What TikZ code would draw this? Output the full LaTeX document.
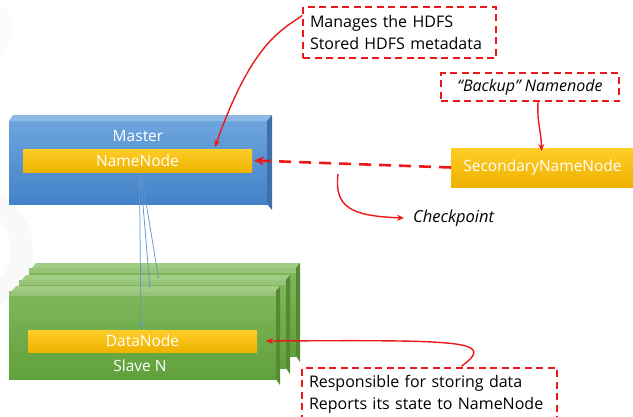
\documentclass[tikz,border=0pt]{standalone}
\usepackage{fontspec}
\setmainfont{Open Sans}
\usetikzlibrary{arrows.meta}

\definecolor{bluetop}{RGB}{108,165,222}
\definecolor{bluebot}{RGB}{68,130,200}
\definecolor{blueside}{RGB}{62,112,170}
\definecolor{bluelid}{RGB}{140,185,230}
\definecolor{greentop}{RGB}{128,184,92}
\definecolor{greenbot}{RGB}{96,160,58}
\definecolor{greenside}{RGB}{84,138,50}
\definecolor{greenlid}{RGB}{160,205,130}
\definecolor{goldtop}{RGB}{255,205,40}
\definecolor{goldbot}{RGB}{238,178,0}
\definecolor{callred}{RGB}{235,25,25}
\definecolor{linkblue}{RGB}{95,150,205}

\tikzset{
  frontface/.style={draw=none, inner sep=0pt, outer sep=0pt},
  masterface/.style={frontface, top color=bluetop, bottom color=bluebot},
  slaveface/.style={frontface, top color=greentop, bottom color=greenbot},
  goldbar/.style={draw=none, inner sep=0pt, outer sep=0pt, top color=goldtop, bottom color=goldbot,
    text=white, font=\fontsize{15.5}{18}\selectfont},
  boxlabel/.style={text=white, font=\fontsize{15.5}{18}\selectfont, inner sep=0pt},
  callout/.style={draw=callred, line width=1.6pt, dash pattern=on 7pt off 4.5pt, inner sep=0pt,
    fill=white, align=left, font=\fontsize{16}{21.5}\selectfont},
  redarrow/.style={draw=callred, line width=1.4pt, -{Stealth[length=7pt,width=6pt]}},
  dashlink/.style={draw=callred, line width=2.6pt, dash pattern=on 12pt off 8pt,
    -{Stealth[length=10pt,width=9pt]}},
  heartbeat/.style={draw=linkblue, line width=0.75pt},
}

\begin{document}
\begin{tikzpicture}[x=1pt, y=-1pt]
\useasboundingbox (0,0) rectangle (633,416);

% faint watermark rings behind everything
\draw[gray!5, line width=22pt] (-30,250) circle[radius=52];
\draw[gray!3, line width=14pt] (-25,30) circle[radius=30];

% ---- slave machines (three stacked boxes, back to front) ----
\foreach \dx/\dy/\nm in {20/-23/slaveC, 10/-11/slaveB, 0/0/slaveA}{
  \node[slaveface, minimum width=267pt, minimum height=88pt] (\nm) at (142.5+\dx,335+\dy) {};
  \fill[greenlid] ([xshift=3pt]\nm.north west) -- ++(4,-5) -- ([xshift=4pt,yshift=5pt]\nm.north east)
    -- (\nm.north east) -- cycle;
  \fill[greenside] (\nm.north east) -- ++(4,-5) -- ([xshift=4pt,yshift=-6pt]\nm.south east)
    -- (\nm.south east) -- cycle;
  \fill[white, opacity=0.18] (\nm.north west) rectangle ([yshift=-5pt]\nm.north east);
}

% ---- master machine ----
\node[masterface, minimum width=258pt, minimum height=83pt] (master) at (138,162.5) {};
\fill[bluelid] ([xshift=0pt]master.north west) -- ++(4,-6) -- ([xshift=5pt,yshift=6pt]master.north east)
  -- (master.north east) -- cycle;
\fill[blueside] (master.north east) -- ++(5,-6) -- ([xshift=5pt,yshift=-6pt]master.south east)
  -- (master.south east) -- cycle;
\node[boxlabel] (mlabel) at (138,136) {Master};

% ---- daemons ----
\node[goldbar, minimum width=229pt, minimum height=23pt] (nn) at (137.5,160.5) {NameNode};
\node[goldbar, minimum width=229pt, minimum height=22pt] (dn) at (142.5,341) {DataNode};
\node[boxlabel] (slabel) at (140,366) {Slave N};
\node[goldbar, minimum width=183pt, minimum height=39pt] (snn) at (542.5,167.5) {SecondaryNameNode};

% ---- links from the NameNode to each slave ----
\coordinate (hbA) at (141,328);
\coordinate (hbB) at (150,289);
\coordinate (hbC) at (158.5,278);
\draw[heartbeat, -{Stealth[length=5pt,width=4pt]}] ([xshift=2pt,yshift=-3pt]nn.south) -- (hbA);
\draw[heartbeat] ([xshift=3pt,yshift=-3pt]nn.south) -- (hbB);
\draw[heartbeat] ([xshift=4pt,yshift=-3pt]nn.south) -- (hbC);

% ---- callouts ----
\node[callout, minimum width=193pt, minimum height=51pt, text width=179pt] (mg) at (399.5,32.5)
  {Manages the HDFS\\Stored HDFS metadata};
\node[callout, minimum width=178pt, minimum height=28pt, align=center] (bk) at (530,87)
  {\itshape “Backup” Namenode};
\node[callout, minimum width=255pt, minimum height=53pt, text width=241pt] (rs) at (429.5,394.5)
  {Responsible for storing data\\Reports its state to NameNode};
\node[font=\itshape\fontsize{16.5}{18}\selectfont, anchor=west, inner sep=0pt] (cp) at (413,218) {Checkpoint};

% ---- connectors ----
\draw[dashlink] (snn.west) -- ([xshift=2pt]nn.east);
\coordinate (cpstart) at (338,174);
\draw[redarrow] (cpstart) .. controls (334,208) and (352,216) .. ([xshift=-9pt]cp.west);
\draw[redarrow] ([yshift=17pt]mg.west) .. controls (282,30) and (252,42) .. (215,147);
\draw[redarrow] (bk.south -| 538,0) .. controls (537,125) and (541,128) .. ([xshift=-1pt,yshift=-3pt]snn.north);
\draw[redarrow] ([xshift=32pt,yshift=1pt]rs.north) .. controls (498,340) and (460,340) .. ([xshift=9pt]dn.east);
\end{tikzpicture}
\end{document}
